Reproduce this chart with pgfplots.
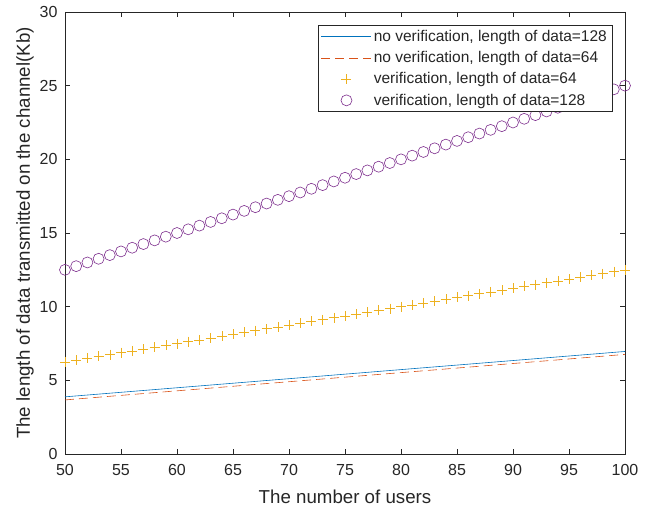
\documentclass[border=0pt]{standalone}
\usepackage{pgfplots}
\pgfplotsset{compat=1.18}
\usepackage{pgfplotstable}
\usepackage{fontspec}
\setmainfont{Liberation Sans}
\definecolor{cblue}{rgb}{0,0.447,0.741}
\definecolor{corange}{rgb}{0.85,0.325,0.098}
\definecolor{cyellow}{rgb}{0.929,0.694,0.125}
\definecolor{cpurple}{rgb}{0.494,0.184,0.556}
\definecolor{axgray}{rgb}{0.15,0.15,0.15}
\pgfplotstableread{
x circ plus
50 12.5 6.25
51 12.75 6.375
52 13 6.5
53 13.25 6.625
54 13.5 6.75
55 13.75 6.875
56 14 7
57 14.25 7.125
58 14.5 7.25
59 14.75 7.375
60 15 7.5
61 15.25 7.625
62 15.5 7.75
63 15.75 7.875
64 16 8
65 16.25 8.125
66 16.5 8.25
67 16.75 8.375
68 17 8.5
69 17.25 8.625
70 17.5 8.75
71 17.75 8.875
72 18 9
73 18.25 9.125
74 18.5 9.25
75 18.75 9.375
76 19 9.5
77 19.25 9.625
78 19.5 9.75
79 19.75 9.875
80 20 10
81 20.25 10.125
82 20.5 10.25
83 20.75 10.375
84 21 10.5
85 21.25 10.625
86 21.5 10.75
87 21.75 10.875
88 22 11
89 22.25 11.125
90 22.5 11.25
91 22.75 11.375
92 23 11.5
93 23.25 11.625
94 23.5 11.75
95 23.75 11.875
96 24 12
97 24.25 12.125
98 24.5 12.25
99 24.75 12.375
100 25 12.5
}\markdata
\begin{document}
\begin{tikzpicture}
\begin{axis}[
  scale only axis,
  width=560pt, height=442pt,
  xmin=50, xmax=100, ymin=0, ymax=30,
  xtick={50,55,...,100}, ytick={0,5,...,30},
  tick align=inside,
  major tick length=5pt,
  axis line style={draw=axgray, line width=0.6pt},
  tick style={draw=axgray, line width=0.6pt},
  ticklabel style={font=\fontsize{16}{18}\selectfont, text=axgray},
  xticklabel style={yshift=-7pt},
  yticklabel style={xshift=-4pt},
  /pgf/number format/assume math mode=true,
  xlabel={The number of users},
  ylabel={The length of data transmitted on the channel(Kb)},
  label style={font=\fontsize{18.7}{21}\selectfont, text=axgray},
  xlabel style={at={(axis description cs:0.5,-0.111)}, anchor=base},
  ylabel style={at={(axis description cs:-0.0714,0.5)}, anchor=center},
  clip=false,
  legend style={at={(rel axis cs:0.977,0.9705)}, anchor=north east,
    font=\fontsize{15.5}{17}\selectfont, draw=axgray, line width=0.5pt,
    row sep=4.5pt, inner sep=3pt, text=axgray},
  legend cell align=left,
  legend image code/.code={\draw[mark repeat=2,mark phase=2,#1] plot coordinates {(0pt,0pt) (25pt,0pt) (50pt,0pt)};},
]
\addplot[draw=cblue, color=cblue, line width=0.6pt] coordinates {(50,3.88) (100,6.96)};
\addlegendentry{no verification, length of data=128}
\addplot[draw=corange, color=corange, line width=0.6pt, dash pattern=on 9pt off 5pt] coordinates {(50,3.67) (100,6.76)};
\addlegendentry{no verification, length of data=64}
\addplot[only marks, color=cyellow, mark=+, mark size=5pt, mark options={draw=cyellow, solid, line width=0.6pt}] table[x=x, y=plus] {\markdata};
\addlegendentry{verification, length of data=64}
\addplot[only marks, color=cpurple, mark=o, mark size=5.5pt, mark options={draw=cpurple, fill=none, solid, line width=0.6pt}] table[x=x, y=circ] {\markdata};
\addlegendentry{verification, length of data=128}
\end{axis}
\pgfresetboundingbox
\path ([shift={(-65pt,-54pt)}]current axis.south west) rectangle ([shift={(32pt,12pt)}]current axis.north east);
\end{tikzpicture}
\end{document}
